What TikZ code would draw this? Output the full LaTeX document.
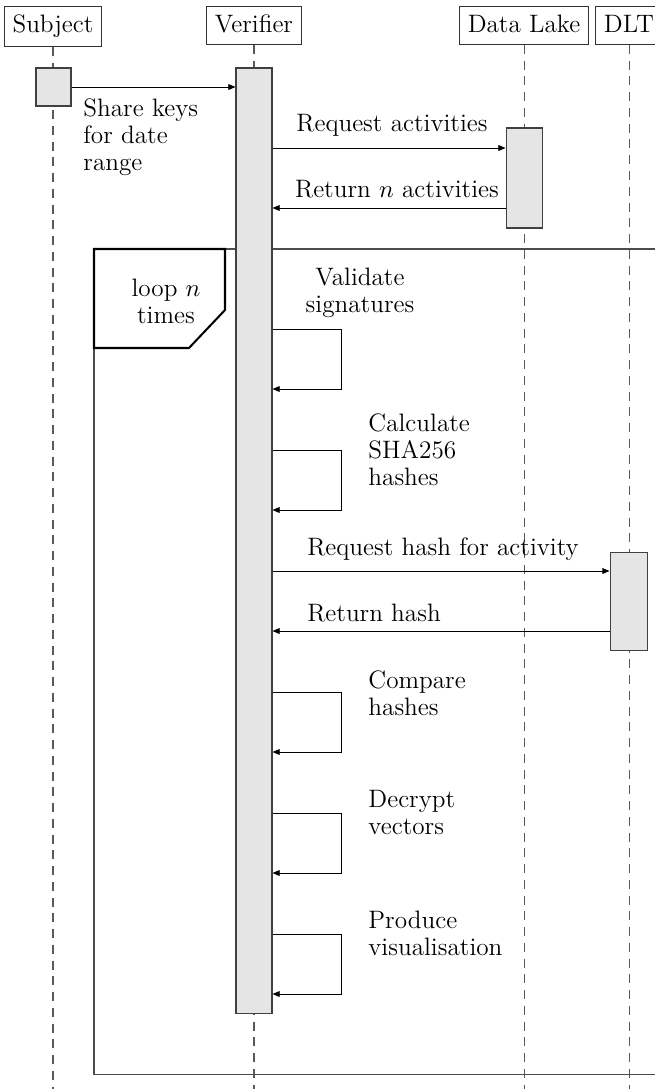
\documentclass[tikz,border=0pt]{standalone}
\usetikzlibrary{arrows.meta,fit}
\begin{document}
\begin{tikzpicture}[x=0.4444pt,y=-0.4444pt,
  font=\fontsize{11.2pt}{12pt}\selectfont,
  head/.style={draw=black!80, fill=white, inner xsep=3.6pt, inner ysep=3.8pt, text height=7.9pt, text depth=1.3pt, line width=0.45pt},
  life/.style={draw=black!65, line width=0.45pt, dash pattern=on 4pt off 3pt},
  act/.style={draw=black!75, fill=black!10, line width=0.45pt, inner sep=0pt},
  msg/.style={draw=black, line width=0.4pt, -{Triangle[length=3.2pt,width=2.6pt]}},
  lbl/.style={inner sep=0pt},
  frame/.style={draw=black!70, line width=0.45pt},
  tag/.style={draw=black, line width=0.9pt}]
\useasboundingbox (0,0) rectangle (655,1089);
\clip (0,0) rectangle (655,1089);

% participants
\node[head, anchor=base, text depth=2.2pt] (subj) at (53,33) {Subject};
\node[head, anchor=base] (ver) at (254,33) {Verifier};
\node[head, anchor=base] (dl) at (524,33) {Data Lake};
\node[head, anchor=base] (dlt) at (629,33) {DLT};

% lifelines
\coordinate (subjend) at (53,1095);
\coordinate (verend) at (254,1095);
\coordinate (dlend) at (524,1095);
\coordinate (dltend) at (629,1095);
\draw[life] (subj.south) -- (subjend);
\draw[life] (ver.south) -- (verend);
\draw[life] (dl.south) -- (dlend);
\draw[life] (dlt.south) -- (dltend);

% loop frame
\coordinate (ftl) at (94,249);
\coordinate (ftr) at (680,249);
\coordinate (fbl) at (94,1074);
\coordinate (fbr) at (680,1074);
\draw[frame] (ftr) -- (ftl) -- (fbl) -- (fbr);

% activations
\node[act, fit={(36,68) (71,106)}] (sa) {};
\node[act, fit={(236,68) (272,1013)}] (va) {};
\node[act, fit={(506,128) (542,228)}] (da) {};
\node[act, fit={(610,552) (647,650)}] (ta) {};

% loop tag
\draw[tag] (ftl) -- (225,249) -- (225,310) -- (189,348) -- (94,348) -- cycle;
\node[lbl, anchor=north, align=center] (looplbl) at (166,279) {loop $n$\\times};

% share keys
\draw[msg] (sa.east |- 0,87) -- (va.west |- 0,87);
\node[lbl, anchor=north west, align=left] (sharelbl) at (83,98) {Share keys\\for date\\range};

% data lake
\draw[msg] (va.east |- 0,148) -- (da.west |- 0,148);
\node[lbl, anchor=base] (reqact) at (392,131) {Request activities};
\draw[msg] (da.west |- 0,208) -- (va.east |- 0,208);
\node[lbl, anchor=base] (retact) at (397,197) {Return $n$ activities};

% self messages
\foreach \t/\nm in {329/vs, 450/ch, 692/cp, 813/dv, 934/pv}{
  \coordinate (\nm a) at (341,\t);
  \coordinate (\nm b) at (341,\t+60);
  \draw[msg] (va.east |- \nm a) -- (\nm a) -- (\nm b) -- (va.east |- \nm b);
}
\node[lbl, anchor=north, align=center] (vslbl) at (360,268) {Validate\\signatures};
\node[lbl, anchor=north west, align=left] (chlbl) at (368,413) {Calculate\\SHA256\\hashes};
\node[lbl, anchor=north west, align=left] (cplbl) at (368,670) {Compare\\hashes};
\node[lbl, anchor=north west, align=left] (dvlbl) at (368,790) {Decrypt\\vectors};
\node[lbl, anchor=north west, align=left] (pvlbl) at (368,911) {Produce\\visualisation};

% DLT
\draw[msg] (va.east |- 0,571) -- (ta.west |- 0,571);
\node[lbl, anchor=base] (reqhash) at (443,555) {Request hash for activity};
\draw[msg] (ta.west |- 0,631) -- (va.east |- 0,631);
\node[lbl, anchor=base] (rethash) at (374,621) {Return hash};
\end{tikzpicture}
\end{document}
